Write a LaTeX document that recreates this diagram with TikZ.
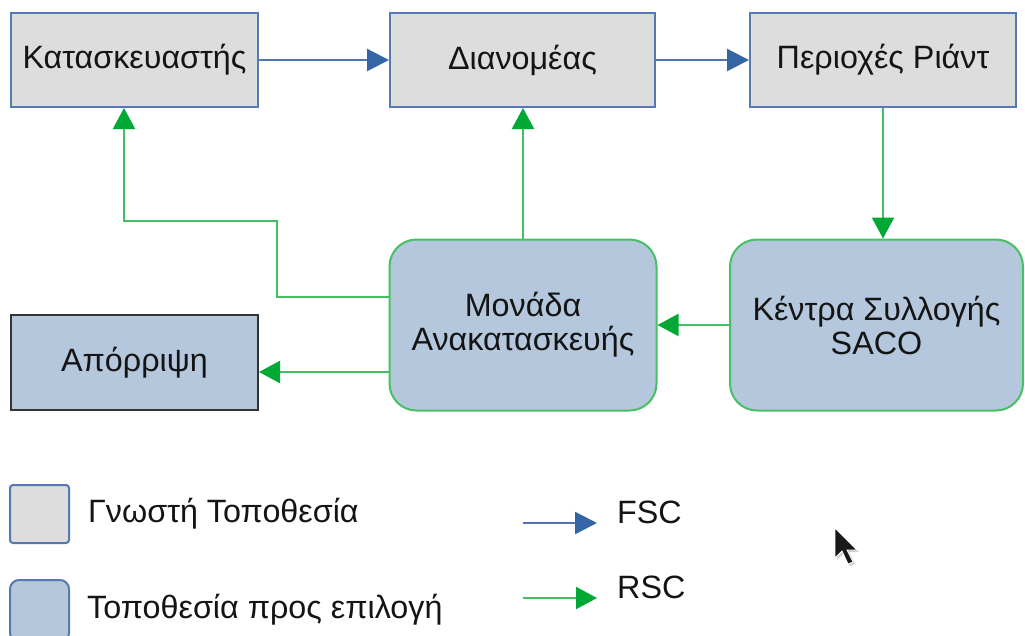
\documentclass[tikz,border=0pt]{standalone}
\usepackage{fontspec}
\setmainfont{Liberation Sans}
\usetikzlibrary{arrows.meta}
\definecolor{knownfill}{HTML}{DDDDDD}
\definecolor{knownline}{HTML}{5479B3}
\definecolor{pickfill}{HTML}{B4C7DC}
\definecolor{pickline}{HTML}{46C062}
\definecolor{fscblue}{HTML}{3465A4}
\definecolor{fscline}{HTML}{4F76B2}
\definecolor{rscgreen}{HTML}{00A933}
\definecolor{rscline}{HTML}{44BF60}
\definecolor{inkdark}{HTML}{141414}

\begin{document}
\begin{tikzpicture}[x=1pt, y=-1pt,
  font=\fontsize{32.3}{34}\selectfont, text=inkdark,
  known/.style={draw=knownline, fill=knownfill, line width=2pt, inner sep=0pt, align=center},
  pick/.style={draw=pickline, fill=pickfill, line width=2pt, inner sep=0pt, align=center, rounded corners=27pt},
  dump/.style={draw=black!80, fill=pickfill, line width=2pt, inner sep=0pt},
  fsc/.style={draw=fscline, line width=2.2pt, -{Triangle[length=22pt, width=22pt, color=fscblue]}},
  rsc/.style={draw=rscline, line width=2.2pt, -{Triangle[length=21pt, width=22pt, color=rscgreen]}},
  legtext/.style={anchor=base west, inner sep=0pt}
]
\useasboundingbox (0,0) rectangle (1025,635);

% supply chain boxes
\node[known, minimum width=247pt, minimum height=94pt] (kat) at (134.5,60) {Κατασκευαστής};
\node[known, minimum width=265pt, minimum height=94pt] (dia) at (522.5,60) {Διανομέας};
\node[known, minimum width=266pt, minimum height=94pt] (per) at (883,60) {Περιοχές Ριάντ};
\node[pick, minimum width=267pt, minimum height=171pt] (mon) at (523,325) {Μονάδα\\Ανακατασκευής};
\node[pick, minimum width=293pt, minimum height=171pt] (ken) at (876.5,325) {Κέντρα Συλλογής\\SACO};
\node[dump, minimum width=247pt, minimum height=95pt] (apo) at (134.5,362.5) {Απόρριψη};

% forward flow
\draw[fsc] (kat) -- (dia);
\draw[fsc] (dia) -- (per);

% reverse flow
\draw[rsc] (per.south) -- (per.south |- ken.north);
\draw[rsc] (ken) -- (mon);
\draw[rsc] ([yshift=-47pt]mon.west) -- ([yshift=-47pt]mon.west -| apo.east);
\draw[rsc] (mon.north) -- (mon.north |- dia.south);
\coordinate (bend) at (277,221);
\draw[rsc] ([yshift=28pt]mon.west) -| (bend) -| ([xshift=-10.5pt]kat.south);

% legend
\node[known, rounded corners=3pt, minimum width=59pt, minimum height=58pt] (lgknown) at (39.5,514) {};
\node[known, fill=pickfill, rounded corners=9pt, minimum width=59pt, minimum height=62pt] (lgpick) at (39.5,611) {};
\node[legtext] (lgknowntxt) at (88,522) {Γνωστή Τοποθεσία};
\node[legtext] (lgpicktxt) at (87,618) {Τοποθεσία προς επιλογή};

\coordinate (fscA) at (523,523);
\coordinate (fscB) at (597,523);
\draw[fsc] (fscA) -- (fscB);
\node[legtext] (fsclbl) at (617,523) {FSC};

\coordinate (rscA) at (523,598);
\coordinate (rscB) at (597,598);
\draw[rsc] (rscA) -- (rscB);
\node[legtext] (rsclbl) at (617,598) {RSC};

% pointer
\fill[black!18] (837,530) -- ++(0,30) -- ++(7,-7) -- ++(6,13) -- ++(5,-2) -- ++(-6,-12) -- ++(10,0) -- cycle;
\filldraw[fill=black!90, draw=white, line width=0.8pt] (835,528) -- ++(0,30) -- ++(7,-7) -- ++(6,13) -- ++(5,-2) -- ++(-6,-12) -- ++(10,0) -- cycle;
\end{tikzpicture}
\end{document}
